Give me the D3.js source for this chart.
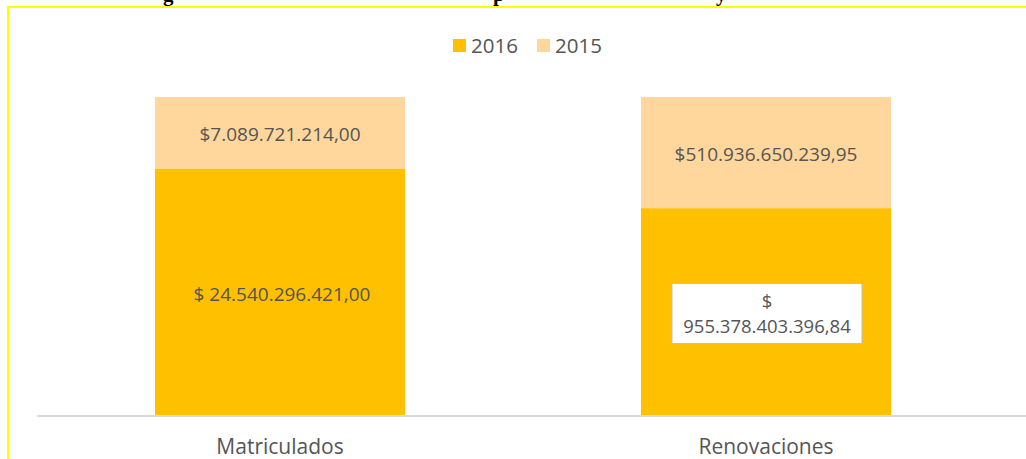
<!DOCTYPE html>
<html><head><meta charset="utf-8">
<script src="https://cdn.jsdelivr.net/npm/d3@7"></script>
<style>
html,body{margin:0;padding:0;background:#fff;overflow:hidden;width:1026px;height:459px;}
svg{display:block;}
</style></head>
<body>
<svg id="c" width="1026" height="459"></svg>
<script>
const categories = ["Matriculados", "Renovaciones"];
const series2016 = [24540296421.00, 955378403396.84];
const series2015 = [7089721214.00, 510936650239.95];
const labels2016 = ["$ 24.540.296.421,00", "$ 955.378.403.396,84"];
const labels2015 = ["$7.089.721.214,00", "$510.936.650.239,95"];
const legendNames = ["2016", "2015"];
const colors = {"2016": "#FFC000", "2015": "#FFD79C"};

const svg = d3.select("#c");
const W = 1026, H = 459;
const font = "'Open Sans', sans-serif";
const txt = "#555555";

// cropped title fragments above the frame (the title is cut off in the original)
const titleFrags = [["g", 163], ["p", 493], ["y", 716]];
svg.selectAll("text.tf").data(titleFrags).join("text")
  .attr("class","tf").attr("x", d=>d[1]).attr("y", 0.5)
  .attr("font-family","'Liberation Serif', serif").attr("font-weight","bold")
  .attr("font-size", 21).attr("fill","#000").text(d=>d[0]);

// frame
svg.append("rect").attr("x",7).attr("y",6).attr("width",W-7).attr("height",2).attr("fill","#FFFF00");
svg.append("rect").attr("x",7).attr("y",6).attr("width",2).attr("height",H-6).attr("fill","#FFFF00");

const x = d3.scaleBand().domain(categories).range([37, 1009]).paddingInner(0.4856).paddingOuter(0.2428);
const y = d3.scaleLinear().domain([0, 1]).range([416, 97]);

const data = categories.map((c,i)=>({cat:c, "2016": series2016[i], "2015": series2015[i]}));
const stack = d3.stack().keys(legendNames).offset(d3.stackOffsetExpand);
const layers = stack(data);

const g = svg.append("g");
layers.forEach(layer=>{
  g.selectAll(null).data(layer).join("rect")
    .attr("x", d=>x(d.data.cat)).attr("width", x.bandwidth())
    .attr("y", d=>y(d[1])).attr("height", d=>y(d[0])-y(d[1]))
    .attr("fill", colors[layer.key]);
});

// axis line
svg.append("rect").attr("x",37).attr("y",415).attr("width",W-37).attr("height",2).attr("fill","#D9D9D9");

// category labels
const xAxis = d3.axisBottom(x).tickSize(0).tickPadding(0);
const ax = svg.append("g").attr("transform","translate(0,439)").call(xAxis);
ax.select(".domain").remove();
ax.selectAll("text").attr("font-family",font).attr("font-size",21).attr("fill",txt).attr("dy","0.71em");

// data labels
const l2016 = layers[0], l2015 = layers[1];
svg.selectAll("text.l15").data(l2015).join("text").attr("class","l15")
  .attr("x", d=>x(d.data.cat)+x.bandwidth()/2)
  .attr("y", d=>(y(d[0])+y(d[1]))/2+1)
  .attr("text-anchor","middle").attr("dominant-baseline","central")
  .attr("font-family",font).attr("font-size",19).attr("fill",txt)
  .text((d,i)=>labels2015[i]);

{
  const d = l2016[0];
  svg.append("text")
    .attr("x", x(d.data.cat)+x.bandwidth()/2+2)
    .attr("y", (y(d[0])+y(d[1]))/2+2)
    .attr("text-anchor","middle").attr("dominant-baseline","central")
    .attr("font-family",font).attr("font-size",19).attr("fill",txt)
    .text(labels2016[0]);
}
{
  const d = l2016[1];
  const cx = x(d.data.cat)+x.bandwidth()/2+1;
  const cy = (y(d[0])+y(d[1]))/2+1.5;
  const bw = 190, bh = 60;
  svg.append("rect").attr("x", cx-bw/2).attr("y", cy-bh/2).attr("width",bw).attr("height",bh)
    .attr("fill","#fff").attr("stroke","#BFBFBF").attr("stroke-width",1);
  const parts = labels2016[1].split(" ");
  const t = svg.append("text").attr("text-anchor","middle")
    .attr("font-family",font).attr("font-size",18.5).attr("fill",txt);
  t.append("tspan").attr("x",cx).attr("y",cy-5.5).text(parts[0]);
  t.append("tspan").attr("x",cx).attr("y",cy+19.5).text(parts[1]);
}

// legend
const leg = svg.append("g");
const legX = [453, 537];
legendNames.forEach((n,i)=>{
  leg.append("rect").attr("x",legX[i]).attr("y",39).attr("width",13).attr("height",13).attr("fill",colors[n]);
  leg.append("text").attr("x",legX[i]+18).attr("y",52.5).attr("font-family",font).attr("font-size",20.5)
    .attr("fill",txt).text(n);
});
</script>
</body></html>
